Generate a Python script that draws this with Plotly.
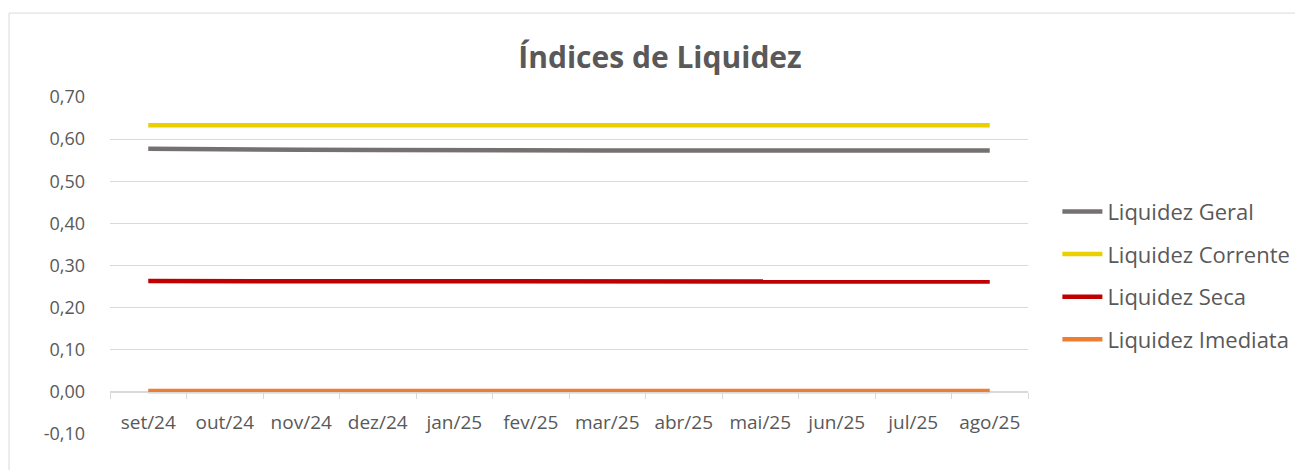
import plotly.graph_objects as go

meses = ["set/24", "out/24", "nov/24", "dez/24", "jan/25", "fev/25",
         "mar/25", "abr/25", "mai/25", "jun/25", "jul/25", "ago/25"]

liq_geral = [0.577, 0.575, 0.575, 0.574, 0.573, 0.573, 0.573, 0.573, 0.573, 0.573, 0.573, 0.573]
liq_corrente = [0.633, 0.633, 0.633, 0.633, 0.633, 0.633, 0.633, 0.633, 0.633, 0.633, 0.633, 0.633]
liq_seca = [0.263, 0.263, 0.263, 0.263, 0.262, 0.262, 0.262, 0.262, 0.262, 0.262, 0.262, 0.262]
liq_imediata = [0.002, 0.002, 0.002, 0.002, 0.002, 0.002, 0.002, 0.001, 0.002, 0.002, 0.002, 0.002]

y_ticks = [-0.1, 0.0, 0.1, 0.2, 0.3, 0.4, 0.5, 0.6, 0.7]
y_labels = ["-0,10", "0,00", "0,10", "0,20", "0,30", "0,40", "0,50", "0,60", "0,70"]

series = [
    ("Liquidez Geral", liq_geral, "#767171"),
    ("Liquidez Corrente", liq_corrente, "#EBD000"),
    ("Liquidez Seca", liq_seca, "#C00000"),
    ("Liquidez Imediata", liq_imediata, "#ED7D31"),
]

fnt = "'Open Sans', sans-serif"
cinza = "#595959"

fig = go.Figure()
for nome, vals, cor in series:
    fig.add_trace(go.Scatter(x=meses, y=vals, name=nome, mode="lines",
                             legendgroup=nome,
                             line=dict(color=cor, width=4.5)))

# the page body adds an 8px margin, so the figure is laid out 8px up/left
fig.update_layout(
    width=1303, height=470,
    margin=dict(l=102, r=283, t=89, b=44, autoexpand=False),
    paper_bgcolor="white", plot_bgcolor="white",
    title=dict(text="<b>Índices de Liquidez</b>", x=0.5004, xanchor="center",
               y=0.8957, yanchor="middle",
               font=dict(family=fnt, size=30, color=cinza)),
    font=dict(family=fnt, color=cinza, size=16),
    legend=dict(x=1.032, xanchor="left", y=0.722, yanchor="top",
                font=dict(size=22, color=cinza, family=fnt),
                tracegroupgap=11, itemwidth=40,
                bgcolor="rgba(0,0,0,0)"),
    xaxis=dict(type="category", range=[-0.5, 11.5], anchor="free", position=0.125,
               showgrid=False, showline=True, linecolor="#d9d9d9", linewidth=1,
               ticks="outside", ticklen=6, tickcolor="#d9d9d9", tickson="boundaries",
               tickfont=dict(size=19, color=cinza), ticklabelstandoff=13,
               automargin=False, fixedrange=True),
    yaxis=dict(range=[-0.1, 0.7], tickmode="array", tickvals=y_ticks, ticktext=y_labels,
               showgrid=True, gridcolor="#d9d9d9", gridwidth=1,
               zeroline=False, showline=False, ticks="", automargin=False,
               tickfont=dict(size=18, color=cinza), ticklabelstandoff=24),
    shapes=[dict(type="rect", xref="paper", yref="paper",
                 x0=-0.110, x1=1.2985, y0=-0.3, y1=1.249,
                 line=dict(color="#d9d9d9", width=1), fillcolor="rgba(0,0,0,0)",
                 layer="below")],
)

fig.write_html("out.html")
